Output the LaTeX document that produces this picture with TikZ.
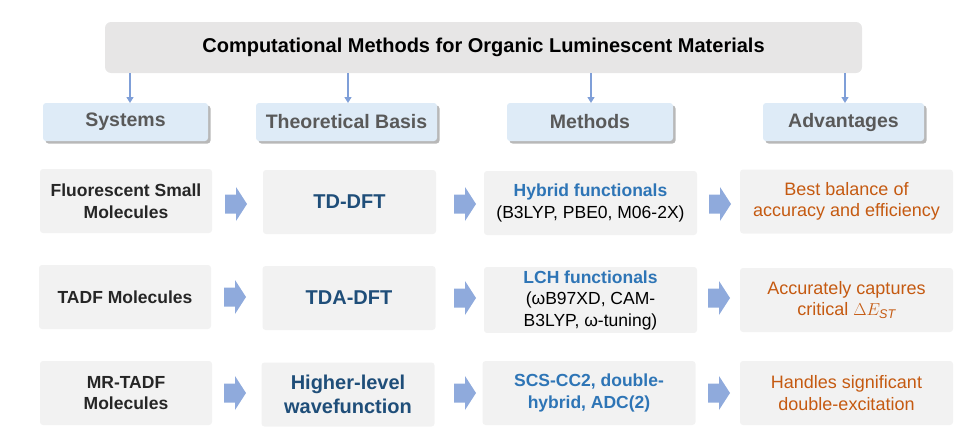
\documentclass[tikz,border=0pt]{standalone}
\usepackage{fontspec}
\setmainfont{Liberation Sans}
\usetikzlibrary{arrows.meta,shadows}
\definecolor{titlefill}{HTML}{E7E6E6}
\definecolor{hdrfill}{HTML}{DEEBF7}
\definecolor{hdrtext}{HTML}{595959}
\definecolor{cellfill}{HTML}{F2F2F2}
\definecolor{arrfill}{HTML}{8FAADC}
\definecolor{downcol}{HTML}{7F9FD8}
\definecolor{theorytext}{HTML}{1F4E79}
\definecolor{methblue}{HTML}{2E75B6}
\definecolor{advorange}{HTML}{C55A11}
\definecolor{systext}{HTML}{262626}
\tikzset{
  titlebox/.style={fill=titlefill, rounded corners=6pt, minimum width=757pt, minimum height=51pt,
    font=\fontsize{20}{24}\selectfont\bfseries, text=black},
  hdrbox/.style={fill=hdrfill, rounded corners=3pt, minimum height=38pt,
    drop shadow={shadow xshift=2.5pt, shadow yshift=-2.5pt, fill=black!35, opacity=0.8},
    font=\fontsize{19.5}{23}\selectfont\bfseries, text=hdrtext},
  cell/.style={fill=cellfill, rounded corners=3pt, minimum height=64pt, align=center},
  syscell/.style={cell, minimum width=172pt, text=systext, font=\fontsize{17.5}{21.5}\selectfont\bfseries},
  thcell/.style={cell, minimum width=173pt, text=theorytext, font=\fontsize{20}{24}\selectfont\bfseries},
  mecell/.style={cell, minimum width=213pt, text=black, font=\fontsize{17.5}{21.5}\selectfont},
  adcell/.style={cell, minimum width=213pt, text=advorange, font=\fontsize{18}{21.5}\selectfont},
  barr/.pic={\fill[arrfill] (-11,-9.5) -- (0,-9.5) -- (0,-17) -- (11,0) -- (0,17) -- (0,9.5) -- (-11,9.5) -- cycle;},
  darr/.style={draw=downcol, line width=1.3pt, -{Triangle[length=6pt,width=7pt]}}
}
\begin{document}
\begin{tikzpicture}[x=1pt,y=-1pt]
\useasboundingbox (0,0) rectangle (975,439);

\node[titlebox] (title) at (483.5,47.5) {Computational Methods for Organic Luminescent Materials};

\node[hdrbox, minimum width=165pt] (h1) at (125.5,122) {Systems};
\node[hdrbox, minimum width=181pt] (h2) at (346.5,122) {Theoretical Basis};
\node[hdrbox, minimum width=166pt] (h3) at (590,122) {Methods};
\node[hdrbox, minimum width=161pt] (h4) at (843.5,122) {Advantages};

\foreach \h/\x in {h1/130,h2/348,h3/591,h4/845}{
  \coordinate (\h top) at (\x,73);
  \coordinate (\h bot) at (\x,103);
  \draw[darr] (\h top) -- (\h bot);
}

% row 1
\node[syscell] (s1) at (126,201) {Fluorescent Small\\Molecules};
\node[thcell] (t1) at (349.5,202) {TD-DFT};
\node[mecell] (m1) at (590.5,203) {\textcolor{methblue}{\bfseries Hybrid functionals}\\(B3LYP, PBE0, M06-2X)};
\node[adcell] (a1) at (846.5,201.5) {Best balance of\\accuracy and efficiency};

% row 2
\node[syscell] (s2) at (125,297) {TADF Molecules};
\node[thcell] (t2) at (349,298) {TDA-DFT};
\node[mecell] (m2) at (590.5,300) {\textcolor{methblue}{\bfseries LCH functionals}\\(ωB97XD, CAM-\\B3LYP, ω-tuning)};
\node[adcell] (a2) at (846.5,300) {Accurately captures\\critical $\Delta E_{\mathit{ST}}$};

% row 3
\node[syscell] (s3) at (126,393) {MR-TADF\\Molecules};
\node[thcell] (t3) at (348,394.5) {Higher-level\\wavefunction};
\node[mecell, text=methblue, font=\fontsize{17.5}{21.5}\selectfont\bfseries] (m3) at (589,393) {SCS-CC2, double-\\hybrid, ADC(2)};
\node[adcell] (a3) at (846.5,393) {Handles significant\\double-excitation};

% block arrows
\pic at (236,204) {barr};
\pic at (465,204) {barr};
\pic at (720,204) {barr};
\pic at (235,297) {barr};
\pic at (465,298) {barr};
\pic at (719,298) {barr};
\pic at (235,393) {barr};
\pic at (465,393) {barr};
\pic at (719,393) {barr};
\end{tikzpicture}
\end{document}
